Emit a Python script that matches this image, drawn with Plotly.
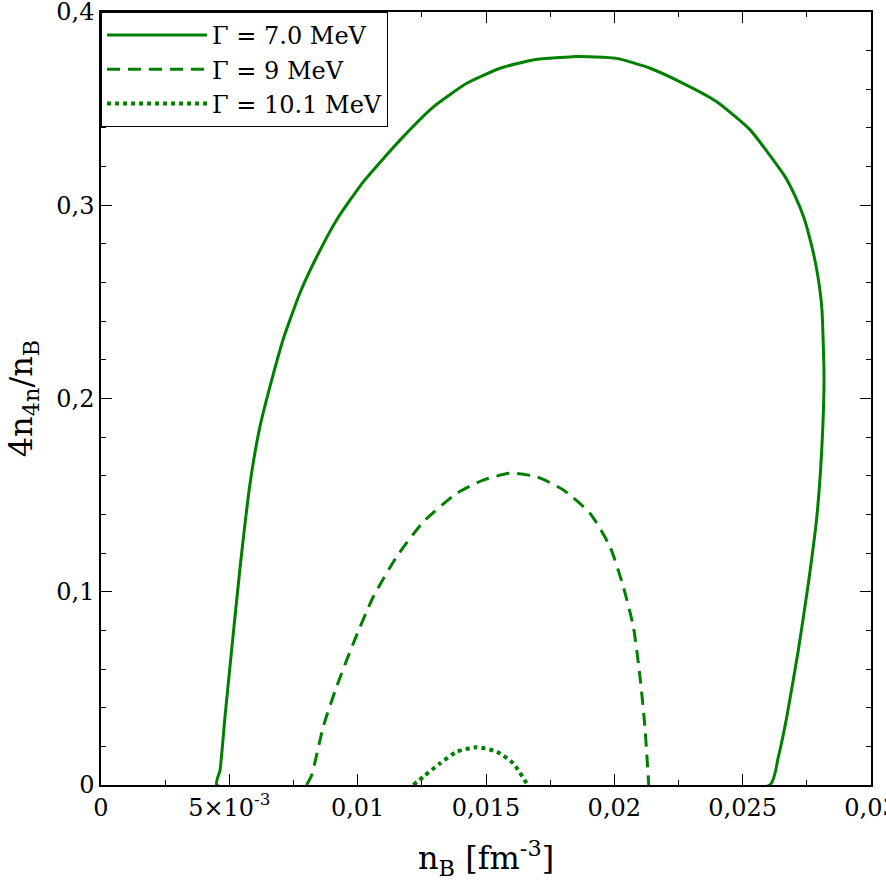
import plotly.graph_objects as go

# ---- data ----
# Gamma = 7.0 MeV : closed loop (left branch, top, right branch, back along zero)
g70_x = [0.00451, 0.00464, 0.00483, 0.00509, 0.00542, 0.00581, 0.00619, 0.00665,
         0.00709, 0.00775, 0.00840, 0.00918, 0.01021, 0.01165,
         0.01294, 0.01425, 0.01555, 0.01683, 0.01839, 0.02009, 0.02139, 0.02268,
         0.02399, 0.02529, 0.02665, 0.02704, 0.02739, 0.02766, 0.02786, 0.02801,
         0.02809, 0.02817, 0.02808, 0.02789, 0.02756, 0.02717, 0.02672, 0.02639,
         0.02606, 0.00451]
g70_y = [0.0, 0.0078, 0.0352, 0.0699, 0.1128, 0.1563, 0.1853, 0.2095,
         0.2303, 0.2546, 0.2732, 0.2924, 0.3120, 0.3337,
         0.3508, 0.3631, 0.3709, 0.3752, 0.3769, 0.3760, 0.3709, 0.3631,
         0.3536, 0.3390, 0.3148, 0.3048, 0.2934, 0.2805, 0.2686, 0.2561,
         0.2458, 0.2111, 0.1734, 0.1389, 0.1044, 0.0699, 0.0353, 0.0146,
         0.0, 0.0]

# Gamma = 9 MeV
g9_x = [0.00801, 0.00821, 0.00866, 0.00918, 0.00983, 0.01061, 0.01152, 0.01256,
        0.01386, 0.01489, 0.01594, 0.01697, 0.01801, 0.01905, 0.01983, 0.02035,
        0.02074, 0.02100, 0.02119, 0.02134]
g9_y = [0.0, 0.0052, 0.0302, 0.0509, 0.0733, 0.0974, 0.1181, 0.1362,
        0.1509, 0.1578, 0.1613, 0.1595, 0.1527, 0.1406, 0.1233, 0.1026,
        0.0819, 0.0560, 0.0302, 0.0]

# Gamma = 10.1 MeV
g101_x = [0.01217, 0.01256, 0.01321, 0.01386, 0.01464, 0.01542, 0.01606, 0.01662]
g101_y = [0.0, 0.0043, 0.0112, 0.0172, 0.0195, 0.0172, 0.0112, 0.0]

series_names = ["\u0393 = 7.0 MeV", "\u0393 = 9 MeV", "\u0393 = 10.1 MeV"]

x_tickvals = [0, 0.005, 0.01, 0.015, 0.02, 0.025, 0.03]
x_ticktext = ["0", "5\u00d710<sup>-3</sup>", "0,01", "0,015", "0,02", "0,025", "0,03"]
y_tickvals = [0, 0.1, 0.2, 0.3, 0.4]
y_ticktext = ["0", "0,1", "0,2", "0,3", "0,4"]

GREEN = "#008000"
FONT = "DejaVu Serif"

fig = go.Figure()
fig.add_trace(go.Scatter(x=g70_x, y=g70_y, mode="lines", name=series_names[0],
                         line=dict(color=GREEN, width=3, shape="spline", smoothing=0.5)))
fig.add_trace(go.Scatter(x=g9_x, y=g9_y, mode="lines", name=series_names[1],
                         line=dict(color=GREEN, width=3, dash="13px,8px",
                                   shape="spline", smoothing=0.6)))
fig.add_trace(go.Scatter(x=g101_x, y=g101_y, mode="lines", name=series_names[2],
                         line=dict(color=GREEN, width=4, dash="4px,4px",
                                   shape="spline", smoothing=0.6)))

axis_common = dict(
    showline=True, linecolor="black", linewidth=1.5, mirror="allticks",
    ticks="inside", ticklen=11, tickwidth=1, tickcolor="black",
    showgrid=False, zeroline=False, ticklabeloverflow="allow",
    tickfont=dict(family=FONT, size=24, color="black"),
)

fig.update_xaxes(
    range=[-1e-9, 0.03 + 1e-9], tickmode="array", tickvals=x_tickvals, ticktext=x_ticktext,
    minor=dict(ticks="inside", tick0=0, dtick=0.0025, ticklen=5, tickcolor="black", tickwidth=1),
    title=dict(text="n<sub>B</sub> [fm<sup>-3</sup>]",
               font=dict(family=FONT, size=32, color="black"), standoff=26),
    **axis_common,
)
fig.update_yaxes(
    range=[-1e-7, 0.4 + 1e-7], tickmode="array", tickvals=y_tickvals, ticktext=y_ticktext,
    minor=dict(ticks="inside", tick0=0, dtick=0.02, ticklen=5, tickcolor="black", tickwidth=1),
    title=dict(text="4n<sub>4n</sub>/n<sub>B</sub>",
               font=dict(family=FONT, size=32, color="black"), standoff=14),
    **axis_common,
)

fig.update_layout(
    width=886, height=886,
    margin=dict(l=101, r=15, t=12, b=101, autoexpand=False),
    paper_bgcolor="white", plot_bgcolor="white",
    showlegend=True,
    legend=dict(x=0, y=1, xanchor="left", yanchor="top",
                bgcolor="white", bordercolor="black", borderwidth=1,
                font=dict(family=FONT, size=24, color="black"),
                itemwidth=100, tracegroupgap=0),
)

fig.write_html("out.html")
